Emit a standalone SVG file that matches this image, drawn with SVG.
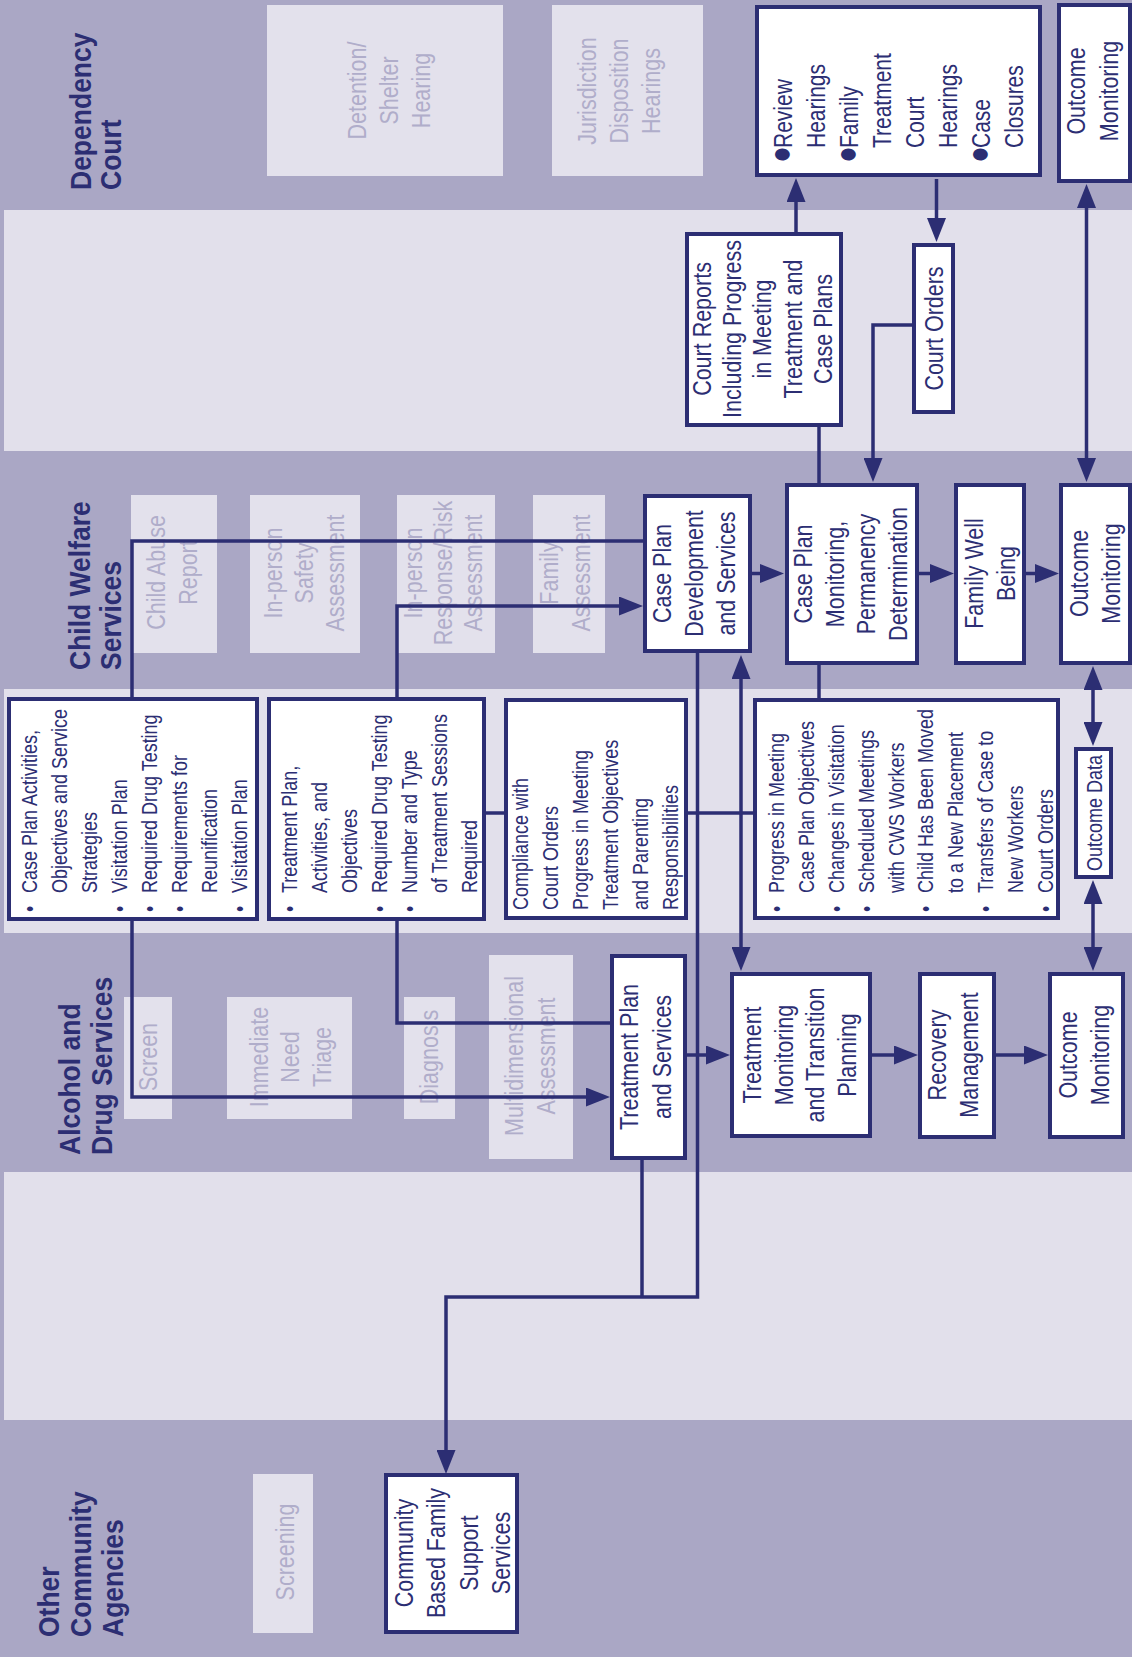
<svg xmlns="http://www.w3.org/2000/svg" width="1132" height="1657" viewBox="0 0 1132 1657">
<style>
  text { font-family: "Liberation Sans", Arial, sans-serif; }
  .lane { font-weight: bold; font-size: 26.5px; fill: #2c2e73; }
  .t { font-size: 21.5px; fill: #2c2e73; text-anchor: middle; }
  .s { font-size: 18px; fill: #2c2e73; }
  .g { font-size: 21.5px; fill: #b0adca; text-anchor: middle; }
  .dot { font-size: 28px; }
  .band { fill: #e2e0eb; }
  .ghost { fill: #e3e1ec; }
  .box { fill: #ffffff; stroke: #2c2e73; stroke-width: 4; }
  .c { fill: none; stroke: #2c2e73; stroke-width: 3.5; }
  .a { marker-end: url(#ah); }
  .aa { marker-start: url(#ah); marker-end: url(#ah); }
</style>
<defs>
  <marker id="ah" viewBox="0 0 24 19" refX="0" refY="9.5" markerWidth="24" markerHeight="19" markerUnits="userSpaceOnUse" orient="auto-start-reverse">
    <path d="M0,0 L24,9.5 L0,19 z" fill="#2c2e73"/>
  </marker>
</defs>

<!-- swim lanes -->
<g id="lanes">
  <rect x="0" y="0" width="1132" height="1657" fill="#aaa7c5"/>
  <rect class="band" x="4" y="210" width="1128" height="241"/>
  <rect class="band" x="4" y="689" width="1128" height="244"/>
  <rect class="band" x="4" y="1172" width="1128" height="248"/>
  <text class="lane" transform="translate(91,190) scale(1.12,1) rotate(-90)"><tspan x="0">Dependency</tspan><tspan x="0" dy="27">Court</tspan></text>
  <text class="lane" transform="translate(90,670) scale(1.12,1) rotate(-90)"><tspan x="0">Child Welfare</tspan><tspan x="0" dy="27.7">Services</tspan></text>
  <text class="lane" transform="translate(80,1155) scale(1.12,1) rotate(-90)"><tspan x="0">Alcohol and</tspan><tspan x="0" dy="28.5">Drug Services</tspan></text>
  <text class="lane" transform="translate(59,1637) scale(1.12,1) rotate(-90)"><tspan x="0">Other</tspan><tspan x="0" dy="28.5">Community</tspan><tspan x="0" dy="28.5">Agencies</tspan></text>
</g>

<!-- background steps -->
<g id="step-detention">
  <rect class="ghost" x="267" y="5" width="236" height="171"/>
  <text class="g" transform="translate(366,90.5) scale(1.22,1) rotate(-90)"><tspan x="0">Detention/</tspan><tspan x="0" dy="26.2">Shelter</tspan><tspan x="0" dy="26.2">Hearing</tspan></text>
</g>
<g id="step-jurisdiction">
  <rect class="ghost" x="552" y="5" width="151" height="171"/>
  <text class="g" transform="translate(596,91) scale(1.22,1) rotate(-90)"><tspan x="0">Jurisdiction</tspan><tspan x="0" dy="26.2">Disposition</tspan><tspan x="0" dy="26.2">Hearings</tspan></text>
</g>
<g id="step-child-abuse">
  <rect class="ghost" x="131" y="495" width="86" height="158"/>
  <text class="g" transform="translate(165,572.5) scale(1.22,1) rotate(-90)"><tspan x="0">Child Abuse</tspan><tspan x="0" dy="26.2">Report</tspan></text>
</g>
<g id="step-safety">
  <rect class="ghost" x="250" y="495" width="110" height="158"/>
  <text class="g" transform="translate(282,573) scale(1.22,1) rotate(-90)"><tspan x="0">In-person</tspan><tspan x="0" dy="25.4">Safety</tspan><tspan x="0" dy="25.4">Assessment</tspan></text>
</g>
<g id="step-risk">
  <rect class="ghost" x="397" y="495" width="98" height="158"/>
  <text class="g" transform="translate(422,573) scale(1.22,1) rotate(-90)"><tspan x="0">In-person</tspan><tspan x="0" dy="24.6">Response/Risk</tspan><tspan x="0" dy="24.6">Assessment</tspan></text>
</g>
<g id="step-family">
  <rect class="ghost" x="533" y="495" width="72" height="158"/>
  <text class="g" transform="translate(558,573) scale(1.22,1) rotate(-90)"><tspan x="0">Family</tspan><tspan x="0" dy="26.5">Assessment</tspan></text>
</g>
<g id="step-screen">
  <rect class="ghost" x="124" y="997" width="48" height="122"/>
  <text class="g" transform="translate(157,1057) scale(1.22,1) rotate(-90)">Screen</text>
</g>
<g id="step-triage">
  <rect class="ghost" x="227" y="997" width="125" height="122"/>
  <text class="g" transform="translate(268,1057) scale(1.22,1) rotate(-90)"><tspan x="0">Immediate</tspan><tspan x="0" dy="25.8">Need</tspan><tspan x="0" dy="25.8">Triage</tspan></text>
</g>
<g id="step-diagnosis">
  <rect class="ghost" x="404" y="997" width="51" height="122"/>
  <text class="g" transform="translate(438,1057) scale(1.22,1) rotate(-90)">Diagnosis</text>
</g>
<g id="step-multidimensional">
  <rect class="ghost" x="489" y="955" width="84" height="204"/>
  <text class="g" transform="translate(523,1056) scale(1.22,1) rotate(-90)"><tspan x="0">Multidimensional</tspan><tspan x="0" dy="26.2">Assessment</tspan></text>
</g>
<g id="step-screening">
  <rect class="ghost" x="253" y="1474" width="60" height="159"/>
  <text class="g" transform="translate(294,1552) scale(1.22,1) rotate(-90)">Screening</text>
</g>

<!-- connectors -->
<g id="connectors">
  <path class="c a" d="M796,232 V202"/>
  <path class="c a" d="M936.5,179 V218"/>
  <path class="c a" d="M912,325 H873 V458"/>
  <path class="c" d="M819,427 V483"/>
  <path class="c aa" d="M1086.5,208 V458"/>
  <path class="c a" d="M752,573.5 H760"/>
  <path class="c a" d="M919,573.5 H930"/>
  <path class="c a" d="M1026,573.5 H1035"/>
  <path class="c aa" d="M1093,690 V722"/>
  <path class="c aa" d="M1093,904 V947"/>
  <path class="c" d="M132,697 V541 H643"/>
  <path class="c a" d="M397,697 V606 H619"/>
  <path class="c a" d="M697.5,653 V1297 H446 V1450"/>
  <path class="c" d="M642,1160 V1297"/>
  <path class="c aa" d="M741,679 V947"/>
  <path class="c" d="M486,813 H504"/>
  <path class="c" d="M688,813 H753"/>
  <path class="c" d="M819,665 V698"/>
  <path class="c a" d="M132,921 V1097 H586"/>
  <path class="c" d="M397,921 V1023 H610"/>
  <path class="c a" d="M687,1055 H706"/>
  <path class="c a" d="M872,1055 H894"/>
  <path class="c a" d="M996,1055 H1024"/>
</g>

<!-- Dependency Court -->
<g id="review-hearings">
  <rect class="box" x="757" y="7" width="283" height="168"/>
  <text class="s" style="font-size:21px" transform="translate(792,163) scale(1.22,1) rotate(-90)"><tspan class="dot" x="0">●</tspan><tspan x="15">Review</tspan><tspan x="15" dy="27.1">Hearings</tspan><tspan class="dot" x="0" dy="27.1">●</tspan><tspan x="15">Family</tspan><tspan x="15" dy="27.1">Treatment</tspan><tspan x="15" dy="27.1">Court</tspan><tspan x="15" dy="27.1">Hearings</tspan><tspan class="dot" x="0" dy="27.1">●</tspan><tspan x="15">Case</tspan><tspan x="15" dy="27.1">Closures</tspan></text>
</g>
<g id="court-outcome-monitoring">
  <rect class="box" x="1059" y="5" width="71" height="176"/>
  <text class="t" transform="translate(1085,91) scale(1.22,1) rotate(-90)"><tspan x="0">Outcome</tspan><tspan x="0" dy="27">Monitoring</tspan></text>
</g>
<g id="court-reports">
  <rect class="box" x="687" y="234" width="154" height="191"/>
  <text class="t" transform="translate(711,329) scale(1.22,1) rotate(-90)"><tspan x="0">Court Reports</tspan><tspan x="0" dy="24.8">Including Progress</tspan><tspan x="0" dy="24.8">in Meeting</tspan><tspan x="0" dy="24.8">Treatment and</tspan><tspan x="0" dy="24.8">Case Plans</tspan></text>
</g>
<g id="court-orders">
  <rect class="box" x="914" y="245" width="39" height="167"/>
  <text class="t" transform="translate(943,328.5) scale(1.22,1) rotate(-90)">Court Orders</text>
</g>

<!-- Child Welfare Services -->
<g id="case-plan-development">
  <rect class="box" x="645" y="496" width="105" height="155"/>
  <text class="t" transform="translate(671,573.5) scale(1.22,1) rotate(-90)"><tspan x="0">Case Plan</tspan><tspan x="0" dy="26.2">Development</tspan><tspan x="0" dy="26.2">and Services</tspan></text>
</g>
<g id="case-plan-monitoring">
  <rect class="box" x="787" y="485" width="130" height="178"/>
  <text class="t" transform="translate(812,574) scale(1.22,1) rotate(-90)"><tspan x="0">Case Plan</tspan><tspan x="0" dy="26">Monitoring,</tspan><tspan x="0" dy="26">Permanency</tspan><tspan x="0" dy="26">Determination</tspan></text>
</g>
<g id="family-well-being">
  <rect class="box" x="956" y="485" width="68" height="178"/>
  <text class="t" transform="translate(983,573.5) scale(1.22,1) rotate(-90)"><tspan x="0">Family Well</tspan><tspan x="0" dy="26.2">Being</tspan></text>
</g>
<g id="cws-outcome-monitoring">
  <rect class="box" x="1061" y="485" width="69" height="178"/>
  <text class="t" transform="translate(1088,573.5) scale(1.22,1) rotate(-90)"><tspan x="0">Outcome</tspan><tspan x="0" dy="26.2">Monitoring</tspan></text>
</g>

<!-- shared plan details -->
<g id="case-plan-details">
  <rect class="box" x="9" y="699" width="248" height="220"/>
  <text class="s" transform="translate(37,912) scale(1.22,1) rotate(-90)"><tspan x="0">•</tspan><tspan x="19">Case Plan Activities,</tspan><tspan x="19" dy="24.6">Objectives and Service</tspan><tspan x="19" dy="24.6">Strategies</tspan><tspan x="0" dy="24.6">•</tspan><tspan x="19">Visitation Plan</tspan><tspan x="0" dy="24.6">•</tspan><tspan x="19">Required Drug Testing</tspan><tspan x="0" dy="24.6">•</tspan><tspan x="19">Requirements for</tspan><tspan x="19" dy="24.6">Reunification</tspan><tspan x="0" dy="24.6">•</tspan><tspan x="19">Visitation Plan</tspan></text>
</g>
<g id="treatment-plan-details">
  <rect class="box" x="269" y="699" width="215" height="220"/>
  <text class="s" transform="translate(297,912) scale(1.22,1) rotate(-90)"><tspan x="0">•</tspan><tspan x="19">Treatment Plan,</tspan><tspan x="19" dy="24.6">Activities, and</tspan><tspan x="19" dy="24.6">Objectives</tspan><tspan x="0" dy="24.6">•</tspan><tspan x="19">Required Drug Testing</tspan><tspan x="0" dy="24.6">•</tspan><tspan x="19">Number and Type</tspan><tspan x="19" dy="24.6">of Treatment Sessions</tspan><tspan x="19" dy="24.6">Required</tspan></text>
</g>
<g id="compliance-details">
  <rect class="box" x="506" y="700" width="180" height="218"/>
  <text class="s" transform="translate(528,910) scale(1.22,1) rotate(-90)"><tspan x="0">Compliance with</tspan><tspan x="0" dy="24.6">Court Orders</tspan><tspan x="0" dy="24.6">Progress in Meeting</tspan><tspan x="0" dy="24.6">Treatment Objectives</tspan><tspan x="0" dy="24.6">and Parenting</tspan><tspan x="0" dy="24.6">Responsibilities</tspan></text>
</g>
<g id="progress-details">
  <rect class="box" x="755" y="700" width="303" height="218"/>
  <text class="s" transform="translate(784,912) scale(1.22,1) rotate(-90)"><tspan x="0">•</tspan><tspan x="19">Progress in Meeting</tspan><tspan x="19" dy="24.5">Case Plan Objectives</tspan><tspan x="0" dy="24.5">•</tspan><tspan x="19">Changes in Visitation</tspan><tspan x="0" dy="24.5">•</tspan><tspan x="19">Scheduled Meetings</tspan><tspan x="19" dy="24.5">with CWS Workers</tspan><tspan x="0" dy="24.5">•</tspan><tspan x="19">Child Has Been Moved</tspan><tspan x="19" dy="24.5">to a New Placement</tspan><tspan x="0" dy="24.5">•</tspan><tspan x="19">Transfers of Case to</tspan><tspan x="19" dy="24.5">New Workers</tspan><tspan x="0" dy="24.5">•</tspan><tspan x="19">Court Orders</tspan></text>
</g>
<g id="outcome-data">
  <rect class="box" x="1076" y="749" width="35" height="128"/>
  <text class="t" style="font-size:18px" transform="translate(1102,813) scale(1.22,1) rotate(-90)">Outcome Data</text>
</g>

<!-- Alcohol and Drug Services -->
<g id="treatment-plan-services">
  <rect class="box" x="612" y="956" width="73" height="202"/>
  <text class="t" transform="translate(638,1057) scale(1.22,1) rotate(-90)"><tspan x="0">Treatment Plan</tspan><tspan x="0" dy="27">and Services</tspan></text>
</g>
<g id="treatment-monitoring">
  <rect class="box" x="732" y="974" width="138" height="162"/>
  <text class="t" transform="translate(761,1055) scale(1.22,1) rotate(-90)"><tspan x="0">Treatment</tspan><tspan x="0" dy="26">Monitoring</tspan><tspan x="0" dy="26">and Transition</tspan><tspan x="0" dy="26">Planning</tspan></text>
</g>
<g id="recovery-management">
  <rect class="box" x="920" y="974" width="74" height="163"/>
  <text class="t" transform="translate(946,1055) scale(1.22,1) rotate(-90)"><tspan x="0">Recovery</tspan><tspan x="0" dy="26.2">Management</tspan></text>
</g>
<g id="ads-outcome-monitoring">
  <rect class="box" x="1050" y="974" width="73" height="163"/>
  <text class="t" transform="translate(1077,1055) scale(1.22,1) rotate(-90)"><tspan x="0">Outcome</tspan><tspan x="0" dy="26.2">Monitoring</tspan></text>
</g>

<!-- Other Community Agencies -->
<g id="community-support">
  <rect class="box" x="386" y="1475" width="131" height="157"/>
  <text class="t" transform="translate(413,1553) scale(1.22,1) rotate(-90)"><tspan x="0">Community</tspan><tspan x="0" dy="26.5">Based Family</tspan><tspan x="0" dy="26.5">Support</tspan><tspan x="0" dy="26.5">Services</tspan></text>
</g>
</svg>
